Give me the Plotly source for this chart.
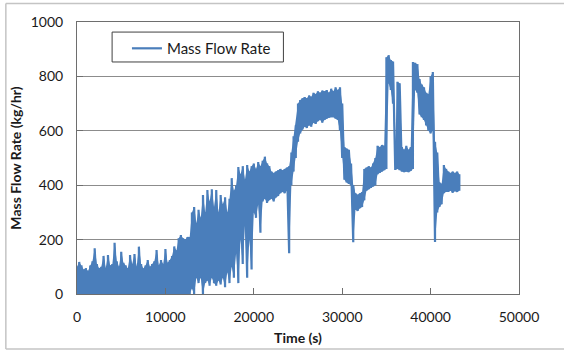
import plotly.graph_objects as go

# Sampling instants (s) of the read-off envelope
time_s = list(range(0, 43251, 250))

# Lower envelope of the noisy flow signal (kg/hr)
flow_low = [
    0, 0, 0, 0, 0, 0, 0, 0, 0, 0,
    0, 0, 0, 0, 0, 0, 0, 0, 0, 0,
    0, 0, 0, 0, 0, 0, 0, 0, 0, 0,
    0, 0, 0, 0, 0, 0, 0, 0, 0, 0,
    0, 0, 0, 0, 0, 0, 0, 0, 0, 0,
    0, 0, 20, 0, 60, 40, 60, 0, 40, 50,
    30, 60, 40, 30, 50, 35, 60, 25, 80, 40,
    100, 60, 150, 40, 200, 110, 250, 60, 200, 90,
    300, 280, 330, 225, 340, 350, 335, 345, 350, 340,
    355, 360, 370, 375, 370, 380, 150, 400, 450, 500,
    560, 590, 605, 615, 610, 620, 615, 630, 625, 635,
    640, 630, 640, 645, 648, 650, 650, 645, 640, 600,
    500, 420, 410, 405, 400, 190, 310, 305, 315, 320,
    345, 380, 385, 390, 395, 400, 440, 445, 450, 455,
    460, 775, 750, 700, 456, 460, 455, 450, 448, 450,
    448, 452, 460, 750, 740, 660, 650, 640, 620, 600,
    590, 600, 191, 300, 320, 330, 370, 375, 375, 380,
    372, 378, 375, 380,
]

# Upper envelope of the noisy flow signal (kg/hr)
flow_high = [
    100, 118, 105, 90, 95, 85, 105, 120, 168, 110,
    95, 100, 140, 95, 143, 105, 110, 188, 120, 100,
    155, 115, 105, 95, 143, 110, 147, 100, 174, 110,
    94, 105, 125, 100, 110, 120, 162, 105, 125, 110,
    165, 115, 125, 140, 175, 160, 205, 217, 205, 200,
    210, 210, 300, 320, 260, 310, 280, 364, 300, 382,
    340, 385, 320, 382, 300, 364, 330, 356, 300, 350,
    426, 380, 400, 467, 440, 470, 420, 474, 450, 470,
    480, 460, 485, 470, 490, 505, 480, 470, 450, 445,
    450, 455, 460, 455, 460, 465, 470, 520, 580, 620,
    700, 713, 720, 724, 720, 730, 725, 740, 735, 745,
    740, 748, 745, 750, 740, 755, 745, 760, 750, 760,
    700, 540, 535, 530, 480, 400, 370, 365, 370, 375,
    460, 465, 470, 465, 480, 500, 545, 540, 548, 545,
    870, 878, 860, 855, 560, 780, 775, 540, 530, 545,
    530, 540, 853, 850, 845, 790, 770, 760, 740, 735,
    800, 816, 560, 520, 410, 405, 474, 460, 450, 445,
    450, 445, 450, 440,
]

x_ticks = [0, 10000, 20000, 30000, 40000, 50000]
y_ticks = [0, 200, 400, 600, 800, 1000]

# Build the noisy trace by alternating low/high readings at each instant
xs, ys = [], []
for t, lo, hi in zip(time_s, flow_low, flow_high):
    xs += [t, t]
    ys += [lo, hi]

FONT = "Lato"
BLUE = "#4a7ebb"
TXT = "#1a1a1a"

fig = go.Figure()
# solid body of the noise band (between the read envelopes)
fig.add_trace(go.Scatter(
    x=time_s, y=flow_low, mode="lines", line=dict(color=BLUE, width=0),
    showlegend=False, hoverinfo="skip",
))
fig.add_trace(go.Scatter(
    x=time_s, y=flow_high, mode="lines", line=dict(color=BLUE, width=0),
    fill="tonexty", fillcolor=BLUE, showlegend=False, hoverinfo="skip",
))
# the signal itself
fig.add_trace(go.Scatter(
    x=xs, y=ys, mode="lines", name="Mass Flow Rate",
    line=dict(color=BLUE, width=2.2),
))

axis_common = dict(
    showline=True, linecolor="#6e6e6e", linewidth=1, mirror=True,
    ticks="inside", ticklen=6, tickcolor="#6e6e6e",
    tickfont=dict(family=FONT, size=14, color=TXT),
    zeroline=False, automargin=False,
)

fig.update_xaxes(
    range=[0, 50000], tickvals=x_ticks, ticktext=[str(v) for v in x_ticks],
    showgrid=False, ticklabelstandoff=10,
    title=dict(text="<b>Time (s)</b>", font=dict(family=FONT, size=14, color=TXT), standoff=9),
    **axis_common,
)
fig.update_yaxes(
    range=[0, 1000], tickvals=y_ticks, ticktext=[str(v) for v in y_ticks],
    showgrid=True, gridcolor="#8c8c8c", gridwidth=1, ticklabelstandoff=10,
    title=dict(text="<b>Mass Flow Rate (kg/hr)</b>", font=dict(family=FONT, size=14, color=TXT), standoff=5),
    **axis_common,
)

# light outer frame of the picture
frame = dict(type="line", xref="paper", yref="paper", line=dict(color="#c4c4c4", width=1.5))
fig.add_shape(x0=-0.161, x1=-0.161, y0=-0.202, y1=1.068, **frame)
fig.add_shape(x0=-0.161, x1=1.11, y0=1.068, y1=1.068, **frame)
fig.add_shape(x0=-0.161, x1=1.11, y0=-0.202, y1=-0.202, **frame)

# legend box outline
fig.add_shape(type="rect", xref="paper", yref="paper",
              x0=0.0794, x1=0.467, y0=0.853, y1=0.963,
              line=dict(color="#404040", width=1), fillcolor="white", layer="above")

fig.update_layout(
    width=564, height=352,
    margin=dict(l=77, r=45, t=22, b=58),
    paper_bgcolor="white", plot_bgcolor="white",
    showlegend=True,
    legend=dict(
        x=0.113, y=0.963, xanchor="left", yanchor="top",
        borderwidth=0, bgcolor="rgba(0,0,0,0)",
        font=dict(family=FONT, size=15, color=TXT),
    ),
)

fig.write_html("out.html")
